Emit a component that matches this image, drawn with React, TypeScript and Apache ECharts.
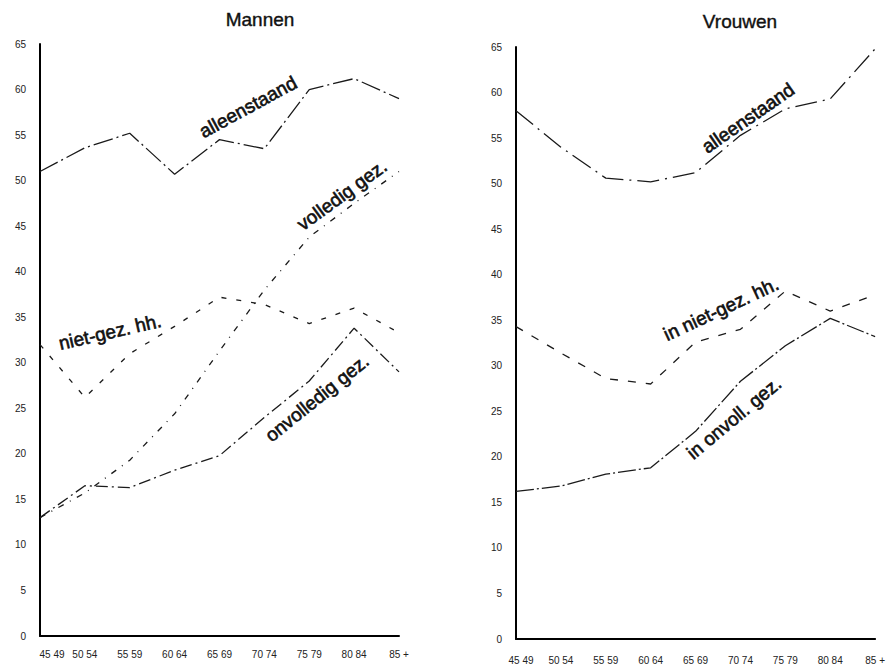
import React, { useEffect, useRef } from "react";
import * as echarts from "echarts";

const categories = ["45 49", "50 54", "55 59", "60 64", "65 69", "70 74", "75 79", "80 84", "85 +"];
const yMin = 0;
const yMax = 65;
const yInterval = 5;

// Mannen
const alleenstaandM = [51, 53.6, 55.2, 50.7, 54.5, 53.5, 60, 61.2, 59];
const volledigM = [13, 15.7, 19.3, 24.4, 31.3, 38, 43.8, 47.5, 51];
const nietGezM = [32, 26.2, 31, 34, 37.2, 36.4, 34.3, 36, 33.3];
const onvolledigM = [13, 16.5, 16.3, 18.2, 19.8, 24, 28, 33.8, 29];

// Vrouwen
const alleenstaandV = [58, 54, 50.6, 50.2, 51.2, 55.3, 58.2, 59.3, 64.8];
const nietGezV = [34.3, 31.4, 28.6, 28, 32.6, 34, 38.2, 36, 37.8];
const onvolledigV = [16.2, 16.8, 18.1, 18.8, 22.8, 28.3, 32.2, 35.2, 33.2];

const FONT = "'Liberation Sans', Arial, sans-serif";
const INK = "#1a1a1a";

export default function App() {
  const ref = useRef<HTMLDivElement>(null);

  useEffect(() => {
    document.body.style.margin = "0";
    const chart = echarts.init(ref.current as HTMLDivElement, null, {
      renderer: "svg",
      width: 888,
      height: 667,
    });

    const axisLine = { show: true, lineStyle: { color: "#000", width: 2 } };

    const xAxisBase = (gridIndex: number, margin: number, firstPad: number) => ({
      type: "category",
      gridIndex,
      data: categories,
      boundaryGap: false,
      axisLine,
      axisTick: { show: false },
      splitLine: { show: false },
      axisLabel: {
        interval: 0,
        margin,
        fontSize: 10,
        color: "#222",
        fontFamily: FONT,
        formatter: (v: string, i: number) => (i === 0 ? "{f|" + v + "}" : v),
        rich: { f: { padding: [0, 0, 0, firstPad], fontSize: 10, color: "#222", fontFamily: FONT } },
      },
    });

    const yAxisBase = (gridIndex: number) => ({
      type: "value",
      gridIndex,
      min: yMin,
      max: yMax,
      interval: yInterval,
      axisLine,
      axisTick: { show: false },
      splitLine: { show: false },
      axisLabel: { margin: 14, fontSize: 10, color: "#222", fontFamily: FONT },
    });

    const line = (data: number[], idx: number, dash: number[], width = 1.3) => ({
      type: "line",
      xAxisIndex: idx,
      yAxisIndex: idx,
      data,
      symbol: "none",
      silent: true,
      lineStyle: { color: INK, width, type: dash },
    });

    const label = (text: string, x: number, y: number, deg: number) => ({
      type: "text",
      x,
      y,
      rotation: (deg * Math.PI) / 180,
      style: {
        text,
        fill: "#111",
        stroke: "#111",
        lineWidth: 0.6,
        font: `19px ${FONT}`,
        align: "center",
        verticalAlign: "middle",
      },
      z: 100,
    });

    const title = (text: string, x: number, y: number) => ({
      type: "text",
      x,
      y,
      style: {
        text,
        fill: "#111",
        stroke: "#111",
        lineWidth: 0.4,
        font: `19px ${FONT}`,
        align: "center",
        verticalAlign: "middle",
      },
    });

    chart.setOption({
      animation: false,
      backgroundColor: "#fff",
      grid: [
        { left: 40, top: 44, width: 359, height: 592 },
        { left: 516, top: 47, width: 362, height: 592 },
      ],
      xAxis: [xAxisBase(0, 13, 24), xAxisBase(1, 16, 10)],
      yAxis: [yAxisBase(0), yAxisBase(1)],
      series: [
        line(alleenstaandM, 0, [20, 4, 2, 4]),
        line(volledigM, 0, [6, 7, 1, 7]),
        line(nietGezM, 0, [5, 10]),
        line(onvolledigM, 0, [12, 4, 2, 4]),
        line(alleenstaandV, 1, [22, 6, 2, 6]),
        line(nietGezV, 1, [8, 10]),
        line(onvolledigV, 1, [18, 3, 2, 3]),
      ],
      graphic: [
        title("Mannen", 260, 19),
        title("Vrouwen", 740, 21),
        label("alleenstaand", 248, 107, 28.6),
        label("volledig gez.", 342, 195, 36),
        label("niet-gez. hh.", 110, 332, 13),
        label("onvolledig gez.", 317, 398, 38.7),
        label("alleenstaand", 748, 118, 34.6),
        label("in niet-gez. hh.", 721, 309, 25),
        label("in onvoll. gez.", 734, 418, 39.8),
      ],
    });

    return () => chart.dispose();
  }, []);

  return <div ref={ref} style={{ width: 888, height: 667 }} />;
}
